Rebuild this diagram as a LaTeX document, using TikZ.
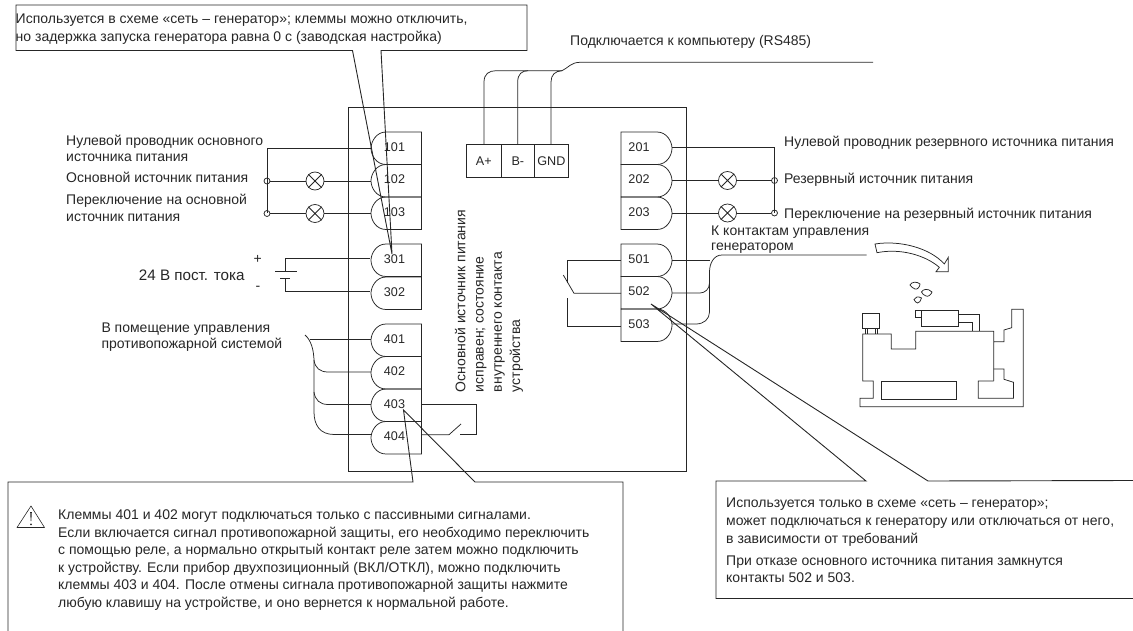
\documentclass[tikz,border=0pt]{standalone}
\usepackage{fontspec}
\setmainfont{Liberation Sans}
\tikzset{
  wire/.style={draw=black!85,line width=0.75pt},
  callout/.style={draw=black!85,line width=0.9pt},
  lbl/.style={inner sep=0pt,anchor=west,align=left,font=\fontsize{14}{16.3}\selectfont,text=black!85},
  one/.style={inner sep=0pt,anchor=base west,font=\fontsize{14}{16.3}\selectfont,text=black!85},
  para/.style={inner sep=0pt,anchor=north west,align=left,font=\fontsize{14}{17.6}\selectfont,text=black!85},
  num/.style={inner sep=0pt,font=\fontsize{12.6}{14}\selectfont,text=black!85},
  dot/.style={circle,draw=black!85,line width=0.75pt,minimum size=6pt,inner sep=0pt},
}
\newcommand{\LT}[3]{% left terminal: name, top y, text
  \draw[wire] (421.5,#2) -- (386,#2) .. controls (376,#2) and (371,#2+10) .. (371,#2+16.25) .. controls (371,#2+23) and (376,#2+32.5) .. (386,#2+32.5) -- (421.5,#2+32.5) -- cycle;
  \node[num] (#1) at (394.5,#2+15) {#3};
}
\newcommand{\RT}[3]{% right terminal
  \draw[wire] (621,#2) -- (657,#2) .. controls (667,#2) and (672,#2+10) .. (672,#2+16.25) .. controls (672,#2+23) and (667,#2+32.5) .. (657,#2+32.5) -- (621,#2+32.5) -- cycle;
  \node[num] (#1) at (639,#2+15) {#3};
}
\newcommand{\Lamp}[3]{% name,x,y
  \node[circle,draw=black!85,line width=0.75pt,fill=white,minimum size=18pt,inner sep=0pt] (#1) at (#2,#3) {};
  \draw[wire] (#1.45) -- (#1.225) (#1.135) -- (#1.315);
}
\begin{document}
\begin{tikzpicture}[x=1pt,y=-1pt]
\useasboundingbox (0,0) rectangle (1133,631);
% main box
\draw[wire] (348,107) rectangle (686,471);
% top callout
\draw[callout] (381,50.5) -- (527,50.5) -- (527,5) -- (16,5) -- (16,50.5) -- (352.5,50.5) -- (392,254) -- cycle;
\node[para,anchor=west,font=\fontsize{14}{18.2}\selectfont] (top) at (15.5,29.5) {Используется в схеме «сеть – генератор»; клеммы можно отключить,\\но задержка запуска генератора равна 0 с (заводская настройка)};
% left terminals
\LT{t101}{132}{101}\LT{t102}{164.5}{102}\LT{t103}{197}{103}
\LT{t301}{244}{301}\LT{t302}{277}{302}
\LT{t401}{324}{401}\LT{t402}{356.5}{402}\LT{t403}{389}{403}\LT{t404}{421.5}{404}
% right terminals
\RT{t201}{132}{201}\RT{t202}{164.5}{202}\RT{t203}{197}{203}
\RT{t501}{244}{501}\RT{t502}{276.5}{502}\RT{t503}{309}{503}
% RS485
\foreach \a/\b/\s in {466.7/501/A+,501/534.7/B-,534.7/568/GND}{
  \node[draw=black!85,line width=0.75pt,minimum width=\b pt-\a pt,minimum height=33pt,inner sep=0pt,font=\fontsize{12.6}{14}\selectfont,text=black!85] (r\s) at ({(\a+\b)/2},160.8) {\s};
}
\draw[wire] (484,144.3) -- (484,82) .. controls (484,74) and (489,70.7) .. (496,70.7) -- (562,70.7) .. controls (568,68) and (571,62.3) .. (580,62.3) -- (873,62.3);
\draw[wire] (517.7,144.3) -- (517.7,82) .. controls (517.7,74) and (522,70.7) .. (528,70.7);
\draw[wire] (551,144.3) -- (551,82) .. controls (551,75) and (555,71) .. (562,70.7);
% left mains
\coordinate (a1) at (371,148); \coordinate (a0) at (267.5,148);
\draw[wire] (a1) -- (a0) -- (267.5,213);
\Lamp{ll1}{315}{181}\Lamp{ll2}{315}{213.5}
\node[dot] (c1) at (267,181) {};
\node[dot] (c2) at (267,213.5) {};
\draw[wire] (c1) -- (ll1) (ll1) -- (371,181) (c2) -- (ll2) (ll2) -- (371,213.5);
% right mains
\Lamp{rl1}{727.5}{180.5}\Lamp{rl2}{727.5}{213}
\node[dot] (c3) at (774.5,180.5) {};
\node[dot] (c4) at (774.5,213) {};
\draw[wire] (672,147.5) -- (774,147.5) -- (774,213);
\draw[wire] (672,180.5) -- (rl1) (rl1) -- (c3) (672,213) -- (rl2) (rl2) -- (c4);
% battery
\draw[wire] (370,258) -- (285.3,258) -- (285.3,271.5) (275,271.5) -- (296.7,271.5);
\draw[wire] (280,278.3) -- (290,278.3) (285.3,278.3) -- (285.3,291) -- (370,291);
\node[lbl,anchor=center] (plus) at (257.7,259) {+};
\node[lbl,anchor=center] (minus) at (258,288) {-};
\node[one,font=\fontsize{15.2}{18}\selectfont] (l24) at (138.7,280) {24 В пост. тока};
% fire group
\draw[wire] (305,335) .. controls (311,340) and (314,350) .. (314,362) -- (314,412) .. controls (314,425) and (320,434.5) .. (334,434.5) -- (371,434.5);
\draw[wire] (310,339) -- (371,339);
\draw[wire] (314,360) .. controls (315,368) and (320,372) .. (328,372) -- (371,372);
\draw[wire] (314,392) .. controls (315,400) and (320,404.5) .. (328,404.5) -- (371,404.5);
% 403/404 switch
\draw[wire] (421.5,404.5) -- (476,404.5) -- (476,434.7) -- (460,434.7);
\draw[wire] (421.5,434.7) -- (449,434.7) -- (461,424);
% generator wires
\draw[wire] (672,260.7) -- (709.5,260.7);
\draw[wire] (866.7,255) -- (722,255) .. controls (714,255) and (709.5,263) .. (709.5,272) -- (709.5,312) .. controls (709.5,319) and (704,324) .. (696,324) -- (672,324);
\draw[wire] (672,293) -- (700,293) .. controls (705,293) and (709.5,289) .. (709.5,283);
% contact left of 502
\draw[wire] (621,260.7) -- (567.3,260.7) -- (567.3,283);
\draw[wire] (563.3,275) -- (574,293.3) -- (621,293.3);
\draw[wire] (567.3,298) -- (567.3,326) -- (621,326);
% callouts
\draw[callout] (8,631) -- (8,482) -- (413,482) -- (403.5,410) -- (475,482) -- (623,482) -- (623,631);
\draw[callout] (1133,598.5) -- (716,598.5) -- (716,481) -- (866,481) -- (651,304) -- (928,481) -- (1133,480.5);
% warning triangle
\draw[line width=0.6pt,draw=black!85,line join=round] (31,506) -- (17,527.5) -- (44.5,527.5) -- cycle;
\fill[black!85] (30.2,512) -- (31.8,512) -- (31.3,521) -- (30.7,521) -- cycle;
\fill[black!85] (31,524.3) circle (1pt);
% labels left
\node[lbl] (n1) at (66,148.5) {Нулевой проводник основного\\источника питания};
\node[one] (n2) at (66,183) {Основной источник питания};
\node[lbl] (n3) at (66,208) {Переключение на основной\\источник питания};
\node[lbl,font=\fontsize{14}{16.7}\selectfont] (n4) at (101.3,337) {В помещение управления\\противопожарной системой};
% labels right
\node[one] (m1) at (784,146.7) {Нулевой проводник резервного источника питания};
\node[one] (m2) at (784,183.3) {Резервный источник питания};
\node[one] (m3) at (784,219) {Переключение на резервный источник питания};
\node[lbl,font=\fontsize{14}{15}\selectfont] (m4) at (711,240) {К контактам управления\\генератором};
\node[one] (m5) at (570,46) {Подключается к компьютеру (RS485)};
% rotated
\node[inner sep=0pt,rotate=90,align=left,anchor=center,font=\fontsize{14}{18.3}\selectfont,text=black!85] (rot) at (489,301) {Основной источник питания\\исправен; состояние\\внутреннего контакта\\устройства};
% bottom texts
\node[para] (w) at (58,509.5) {Клеммы 401 и 402 могут подключаться только с пассивными сигналами.\\Если включается сигнал противопожарной защиты, его необходимо переключить\\с помощью реле, а нормально открытый контакт реле затем можно подключить\\к устройству. Если прибор двухпозиционный (ВКЛ/ОТКЛ), можно подключить\\клеммы 403 и 404. После отмены сигнала противопожарной защиты нажмите\\любую клавишу на устройстве, и оно вернется к нормальной работе.};
\node[para,font=\fontsize{14}{18}\selectfont] (g1) at (726,498) {Используется только в схеме «сеть – генератор»;\\может подключаться к генератору или отключаться от него,\\в зависимости от требований};
\node[para,font=\fontsize{14}{17}\selectfont] (g2) at (726,556) {При отказе основного источника питания замкнутся\\контакты 502 и 503.};
% generator drawing
\begin{scope}[wire]
\draw (875,244) .. controls (900,240) and (930,248) .. (944.3,264) -- (948.3,257.3) -- (948.3,271.7) -- (936,271.7) -- (939.3,267.3) .. controls (925,255) and (900,248) .. (877,252.7) -- cycle;
\draw (910,285) .. controls (911,282) and (917,281) .. (920,284) .. controls (920,287) and (917,290) .. (915,289) .. controls (913,288) and (911,287) .. (910,285) -- cycle;
\draw (921.5,292) .. controls (923,289) and (928,288) .. (932,292) .. controls (931,295) and (928,297) .. (926,296) .. controls (924,295) and (922,294) .. (921.5,292) -- cycle;
\draw (914,299.5) .. controls (915,297) and (918,296) .. (921.5,298) .. controls (921,301) and (919,303) .. (917.5,303) .. controls (916,303) and (915,301) .. (914,299.5) -- cycle;
\draw (862.7,313) rectangle (879.3,328.7);
\draw (865.3,328.7) -- (865.3,334) (867.7,328.7) -- (867.7,334) (875.3,328.7) -- (875.3,334) (877.7,328.7) -- (877.7,334);
\draw (921.7,310.7) rectangle (958.7,326);
\draw (921.7,310.7) -- (915.7,310.7) -- (915.7,317.3) -- (921.7,317.3);
\draw (958.7,314) -- (979,314) -- (979,331.3) (958.7,322.7) -- (972,322.7) -- (972,331.3);
\draw (993.7,381) -- (993.7,331.3) -- (915.7,331.3) -- (915.7,349) -- (891.3,349) -- (891.3,334) -- (862.7,334) -- (862.7,381) -- (873.3,381) -- (873.3,398.3) -- (860,398.3) -- (860,406.7) -- (1023.3,406.7) -- (1023.3,309.3) -- (1011.7,309.3) -- (1011.7,327.7) -- (1004,330) -- (1004,341.7) -- (993.7,341.7);
\draw (993.7,381) -- (978.3,381) -- (978.3,398.3) -- (1013.5,398.3) -- (1013.5,382.3) -- (1004,379.3) -- (1004,369) -- (993.7,369);
\draw (881,381.7) rectangle (956.7,399.3);
\end{scope}
\end{tikzpicture}
\end{document}
